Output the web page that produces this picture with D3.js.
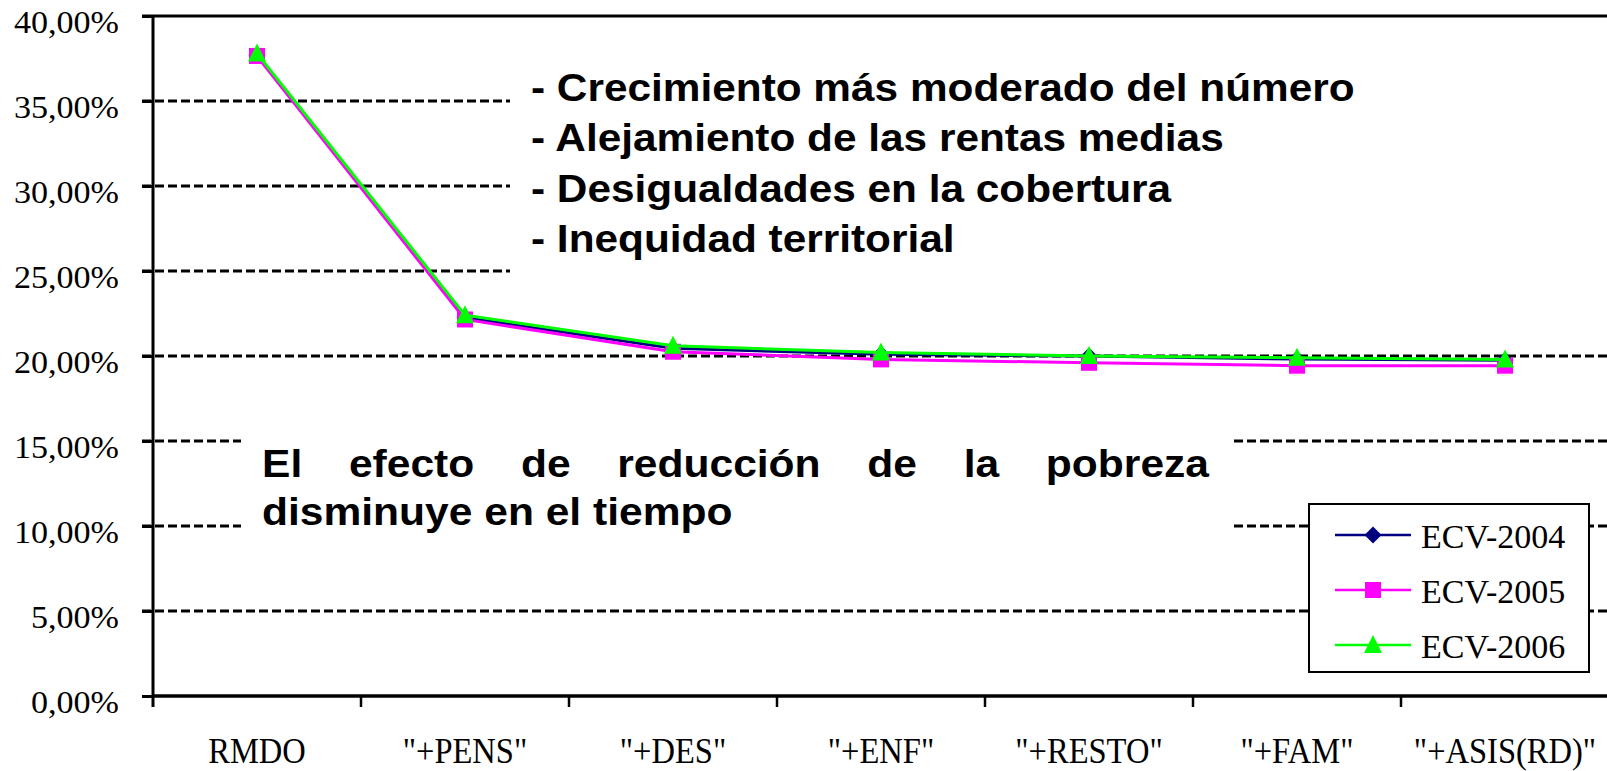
<!DOCTYPE html>
<html>
<head>
<meta charset="utf-8">
<script src="https://cdn.jsdelivr.net/npm/d3@7"></script>
<style>
  html, body { margin: 0; padding: 0; background: #fff; }
  svg { display: block; }
</style>
</head>
<body>
<div id="chart"></div>
<script>
// Chart data
const categories = ["RMDO", "\"+PENS\"", "\"+DES\"", "\"+ENF\"", "\"+RESTO\"", "\"+FAM\"", "\"+ASIS(RD)\""];
const ecv2004 = [37.70, 22.25, 20.45, 20.10, 20.00, 19.82, 19.75];
const ecv2005 = [37.65, 22.15, 20.25, 19.80, 19.60, 19.43, 19.43];
const ecv2006 = [37.80, 22.40, 20.60, 20.20, 20.00, 19.90, 19.80];
const seriesNames = ["ECV-2004", "ECV-2005", "ECV-2006"];
const yTicks = [0, 5, 10, 15, 20, 25, 30, 35, 40];

const notesTop = [
  "- Crecimiento más moderado del número",
  "- Alejamiento de las rentas medias",
  "- Desigualdades en la cobertura",
  "- Inequidad territorial"
];
const noteBottom = ["El efecto de reducción de la pobreza", "disminuye en el tiempo"];

const W = 1607, H = 771;
const plotLeft = 153, plotTop = 16, plotBottom = 696, plotRight = 1609;

const svg = d3.select("#chart").append("svg")
  .attr("width", W).attr("height", H);

const x = d3.scaleBand().domain(categories).range([plotLeft, plotRight]).padding(0);
const y = d3.scaleLinear().domain([0, 40]).range([plotBottom, plotTop]);
const cx = c => x(c) + x.bandwidth() / 2;

const es = d3.formatLocale({decimal: ",", thousands: ".", grouping: [3], currency: ["", "€"]});
const pct = d => es.format(".2f")(d) + "%";

// dashed gridlines
svg.append("g")
  .selectAll("line")
  .data(yTicks.filter(d => d > 0 && d < 40))
  .join("line")
  .attr("x1", plotLeft - 11).attr("x2", W)
  .attr("y1", d => y(d)).attr("y2", d => y(d))
  .attr("stroke", "#000").attr("stroke-width", 3)
  .attr("stroke-dasharray", "9,4");

// top border (40%)
svg.append("line")
  .attr("x1", plotLeft - 11).attr("x2", W)
  .attr("y1", y(40)).attr("y2", y(40))
  .attr("stroke", "#000").attr("stroke-width", 3);

// white text boxes laid over the chart
svg.append("rect").attr("x", 510).attr("y", 40).attr("width", W - 510).attr("height", 290).attr("fill", "#fff");
svg.append("rect").attr("x", 241).attr("y", 405).attr("width", 1233 - 241).attr("height", 170).attr("fill", "#fff");

// upper annotation
const gTop = svg.append("g")
  .attr("font-family", "'Liberation Sans', Arial, sans-serif")
  .attr("font-weight", "bold").attr("font-size", 38.5).attr("fill", "#000");
notesTop.forEach((t, i) => {
  gTop.append("text")
    .attr("transform", `translate(531,${100.5 + i * 50.5}) scale(1.1,1)`)
    .text(t);
});

// lower annotation, first line justified
const sxBot = 1.12;
const gBot = svg.append("g")
  .attr("font-family", "'Liberation Sans', Arial, sans-serif")
  .attr("font-weight", "bold").attr("font-size", 38).attr("fill", "#000");
const jLeft = 262, jRight = 1209;
const line1 = gBot.append("g").attr("transform", `translate(${jLeft},477) scale(${sxBot},1)`);
const words = noteBottom[0].split(" ");
const wNodes = words.map(w => line1.append("text").text(w));
const widths = wNodes.map(n => n.node().getComputedTextLength());
const avail = (jRight - jLeft) / sxBot;
const gap = (avail - d3.sum(widths)) / (words.length - 1);
let pos = 0;
wNodes.forEach((n, i) => { n.attr("x", pos); pos += widths[i] + gap; });
gBot.append("text")
  .attr("transform", `translate(${jLeft},525) scale(${sxBot},1)`)
  .text(noteBottom[1]);

// series
const series = [
  {name: seriesNames[0], values: ecv2004, color: "#000080", marker: "diamond"},
  {name: seriesNames[1], values: ecv2005, color: "#FF00FF", marker: "square"},
  {name: seriesNames[2], values: ecv2006, color: "#00FF00", marker: "triangle"}
];
const markerPath = {
  diamond: "M0,-8.5L8.5,0L0,8.5L-8.5,0Z",
  square: "M-8,-8H8V8H-8Z",
  triangle: "M0,-10L9,8L-9,8Z"
};
const line = d3.line().x((d, i) => cx(categories[i])).y(d => y(d));

series.forEach(s => {
  const g = svg.append("g");
  g.append("path")
    .attr("d", line(s.values))
    .attr("fill", "none").attr("stroke", s.color).attr("stroke-width", 3);
  g.selectAll("path.m")
    .data(s.values)
    .join("path").attr("class", "m")
    .attr("d", markerPath[s.marker])
    .attr("transform", (d, i) => `translate(${cx(categories[i])},${y(d)})`)
    .attr("fill", s.color);
});

// y axis
const yAxis = svg.append("g")
  .attr("transform", `translate(${plotLeft},0)`)
  .call(d3.axisLeft(y).tickValues(yTicks).tickSize(11).tickFormat(pct));
yAxis.select(".domain").remove();
yAxis.selectAll(".tick line").attr("stroke", "#000").attr("stroke-width", 3);
yAxis.selectAll(".tick text").remove();
yAxis.selectAll(".tick").append("text")
  .attr("transform", "translate(-34,16) scale(1.1,1)")
  .attr("text-anchor", "end")
  .attr("font-family", "'Liberation Serif', 'Times New Roman', serif")
  .attr("font-size", 31).attr("fill", "#000")
  .text(d => pct(d));
svg.append("line")
  .attr("x1", plotLeft).attr("x2", plotLeft).attr("y1", plotTop).attr("y2", plotBottom + 11)
  .attr("stroke", "#000").attr("stroke-width", 3);

// x axis
svg.append("line")
  .attr("x1", plotLeft).attr("x2", W).attr("y1", plotBottom).attr("y2", plotBottom)
  .attr("stroke", "#000").attr("stroke-width", 3.5);
svg.append("g")
  .selectAll("line")
  .data(categories.slice(1))
  .join("line")
  .attr("x1", d => x(d)).attr("x2", d => x(d))
  .attr("y1", plotBottom).attr("y2", plotBottom + 11)
  .attr("stroke", "#000").attr("stroke-width", 2.5);
svg.append("g")
  .selectAll("text")
  .data(categories)
  .join("text")
  .attr("transform", d => `translate(${cx(d)},763) scale(0.93,1)`)
  .attr("text-anchor", "middle")
  .attr("font-family", "'Liberation Serif', 'Times New Roman', serif")
  .attr("font-size", 35).attr("fill", "#000")
  .text(d => d);

// legend
const lg = svg.append("g");
lg.append("rect")
  .attr("x", 1309).attr("y", 504).attr("width", 280).attr("height", 168)
  .attr("fill", "#fff").attr("stroke", "#000").attr("stroke-width", 2);
series.forEach((s, i) => {
  const ly = 535 + i * 55;
  lg.append("line")
    .attr("x1", 1335).attr("x2", 1411).attr("y1", ly).attr("y2", ly)
    .attr("stroke", s.color).attr("stroke-width", 2.5);
  lg.append("path")
    .attr("d", markerPath[s.marker])
    .attr("transform", `translate(1373,${ly})`)
    .attr("fill", s.color);
  lg.append("text")
    .attr("x", 1421).attr("y", ly + 12.5)
    .attr("font-family", "'Liberation Serif', 'Times New Roman', serif")
    .attr("font-size", 34).attr("fill", "#000")
    .text(s.name);
});
</script>
</body>
</html>
